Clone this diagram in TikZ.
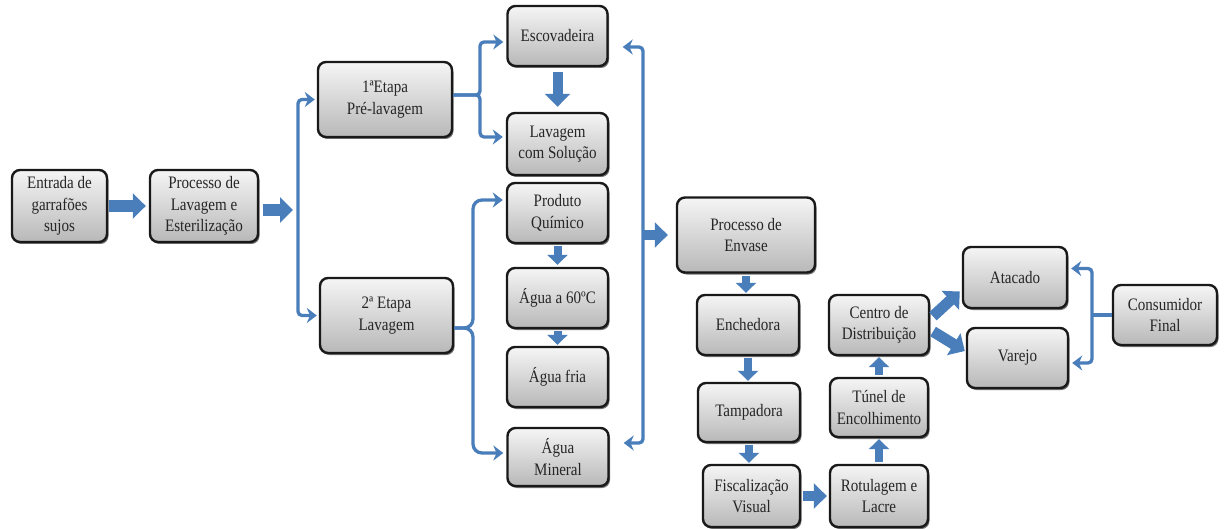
\documentclass[tikz,border=0pt]{standalone}
\usepackage{fontspec}
\setmainfont{Liberation Serif}[FakeStretch=0.86]
\usetikzlibrary{arrows.meta,shadows,calc}
\definecolor{flowblue}{HTML}{4A7EBB}
\definecolor{boxtop}{HTML}{F5F5F5}
\definecolor{boxbot}{HTML}{B8B8B8}

\tikzset{
  stage/.style={draw=black!90, line width=2.4pt, rounded corners=8pt,
    top color=boxtop, bottom color=boxbot,
    drop shadow={shadow xshift=1.5pt, shadow yshift=-2pt, opacity=0.55, fill=black},
    align=center, text=black!85, inner sep=0pt,
    font=\fontsize{17.5}{21.5}\selectfont},
  feed/.style={draw=flowblue, line width=3.3pt, rounded corners=4pt},
  feedtip/.style={feed, -{Stealth[length=10pt,width=15pt]}},
  bigarrow/.style={draw=flowblue, line width=12pt, -{Triangle[length=13pt,width=25pt]}},
  midarrow/.style={draw=flowblue, line width=8pt, -{Triangle[length=10pt,width=20pt]}},
}

\begin{document}
\begin{tikzpicture}[x=1pt,y=-1pt]
\fill[white] (0,0) rectangle (1225,529);
\useasboundingbox (0,0) rectangle (1225,529);

% ---- stages ----
\node[stage, minimum width=95pt,  minimum height=72pt] (entrada)  at (59.5,206)   {Entrada de\\garrafões\\sujos};
\node[stage, minimum width=108pt, minimum height=72pt] (lavest)   at (204,206)    {Processo de\\Lavagem e\\Esterilização};
\node[stage, minimum width=134pt, minimum height=75pt] (etapa1)   at (385,99.5)   {1ªEtapa\\Pré-lavagem};
\node[stage, minimum width=133pt, minimum height=75pt] (etapa2)   at (386.5,315.5){2ª Etapa\\Lavagem};
\node[stage, minimum width=100pt, minimum height=60pt] (escov)    at (557.5,36)   {Escovadeira};
\node[stage, minimum width=101pt, minimum height=62pt] (lavsol)   at (557.5,144)  {Lavagem\\com Solução};
\node[stage, minimum width=101pt, minimum height=60pt] (produto)  at (557.5,213)  {Produto\\Químico};
\node[stage, minimum width=101pt, minimum height=60pt] (agua60)   at (557.5,298)  {Água a 60ºC};
\node[stage, minimum width=101pt, minimum height=60pt] (aguafria) at (557.5,377)  {Água fria};
\node[stage, minimum width=101pt, minimum height=58pt] (mineral)  at (558,457)    {Água\\Mineral};
\node[stage, minimum width=138pt, minimum height=75pt] (envase)   at (746,235)    {Processo de\\Envase};
\node[stage, minimum width=102pt, minimum height=60pt] (enched)   at (748,325)    {Enchedora};
\node[stage, minimum width=102pt, minimum height=59pt] (tamp)     at (749,412.5)  {Tampadora};
\node[stage, minimum width=97pt,  minimum height=62pt] (fisc)     at (751.5,496)  {Fiscalização\\Visual};
\node[stage, minimum width=98pt,  minimum height=62pt] (rotul)    at (879,496)    {Rotulagem e\\Lacre};
\node[stage, minimum width=98pt,  minimum height=59pt] (tunel)    at (879,407.5)  {Túnel de\\Encolhimento};
\node[stage, minimum width=100pt, minimum height=60pt] (centro)   at (879,325)    {Centro de\\Distribuição};
\node[stage, minimum width=104pt, minimum height=61pt] (atacado)  at (1015,277.5) {Atacado};
\node[stage, minimum width=101pt, minimum height=60pt] (varejo)   at (1017.5,358) {Varejo};
\node[stage, minimum width=104pt, minimum height=60pt] (consum)   at (1165,315)   {Consumidor\\Final};

% ---- junction points ----
\coordinate (jL) at (298,210);
\coordinate (f1) at (480,95);
\coordinate (f2) at (473,328);
\coordinate (rT) at (643,47);
\coordinate (rB) at (643,443);
\coordinate (cJ) at (1092,315);

% ---- block arrows ----
\draw[bigarrow, shorten <=1pt, shorten >=3pt] (entrada) -- (lavest);
\draw[bigarrow, shorten <=4pt] (lavest.east |- jL) -- ($(jL)+(-5,0)$);
\draw[bigarrow, line width=10pt, shorten <=5pt, shorten >=5pt] (escov) -- (lavsol);
\draw[midarrow, shorten <=2pt, shorten >=2pt] (produto) -- (agua60);
\draw[midarrow, shorten <=2pt, shorten >=1pt] (agua60) -- (aguafria);
\draw[bigarrow, line width=10pt, shorten >=8pt] (rT |- envase.west) -- (envase.west);
\draw[midarrow, shorten <=2pt, shorten >=1pt] (envase.south) -- (envase.south |- enched.north);
\draw[midarrow, shorten <=2pt, shorten >=1pt] (enched.south) -- (enched.south |- tamp.north);
\draw[midarrow, shorten <=2pt, shorten >=1pt] (tamp.south) -- (tamp.south |- fisc.north);
\draw[bigarrow, line width=10pt, shorten <=2pt, shorten >=2pt] (fisc) -- (rotul);
\draw[midarrow, shorten <=2pt, shorten >=1pt] (rotul) -- (tunel);
\draw[midarrow, shorten <=2pt, shorten >=1pt] (tunel) -- (centro);
\draw[bigarrow, line width=11pt, shorten <=1pt] ($(centro.east)+(2,-8)$) -- ($(atacado.west)+(-2,14)$);
\draw[bigarrow, line width=11pt, shorten <=1pt] ($(centro.east)+(2,6)$) -- ($(varejo.west)+(-1,-7)$);

% ---- feed lines ----
\draw[feedtip, shorten >=2pt] (jL) |- (etapa1.west);
\draw[feedtip, shorten >=2pt] (jL) |- (etapa2.west);

\draw[feedtip, shorten >=3pt] (etapa1.east |- f1) -- (f1) |- ($(escov.west)+(0,6)$);
\draw[feedtip, shorten >=3pt] (etapa1.east |- f1) -- (f1) |- ($(lavsol.west)+(0,-7)$);

\draw[feedtip, rounded corners=9pt, shorten >=3pt] (etapa2.east |- f2) -- (f2) |- ($(produto.west)+(0,-13)$);
\draw[feedtip, rounded corners=9pt, shorten >=3pt] (etapa2.east |- f2) -- (f2) |- ($(mineral.west)+(0,-4)$);

\draw[feed, {Stealth[length=10pt,width=15pt]}-{Stealth[length=10pt,width=15pt]},
      shorten <=14pt, shorten >=14pt]
  (mineral.east |- rB) -- (rB) -- (rT) -- (escov.east |- rT);

\draw[feed] (consum.west) -- (cJ);
\draw[feedtip, shorten >=3pt] (cJ) |- ($(atacado.east)+(0,-9)$);
\draw[feedtip, shorten >=3pt] (cJ) |- ($(varejo.east)+(0,5)$);
\end{tikzpicture}
\end{document}
